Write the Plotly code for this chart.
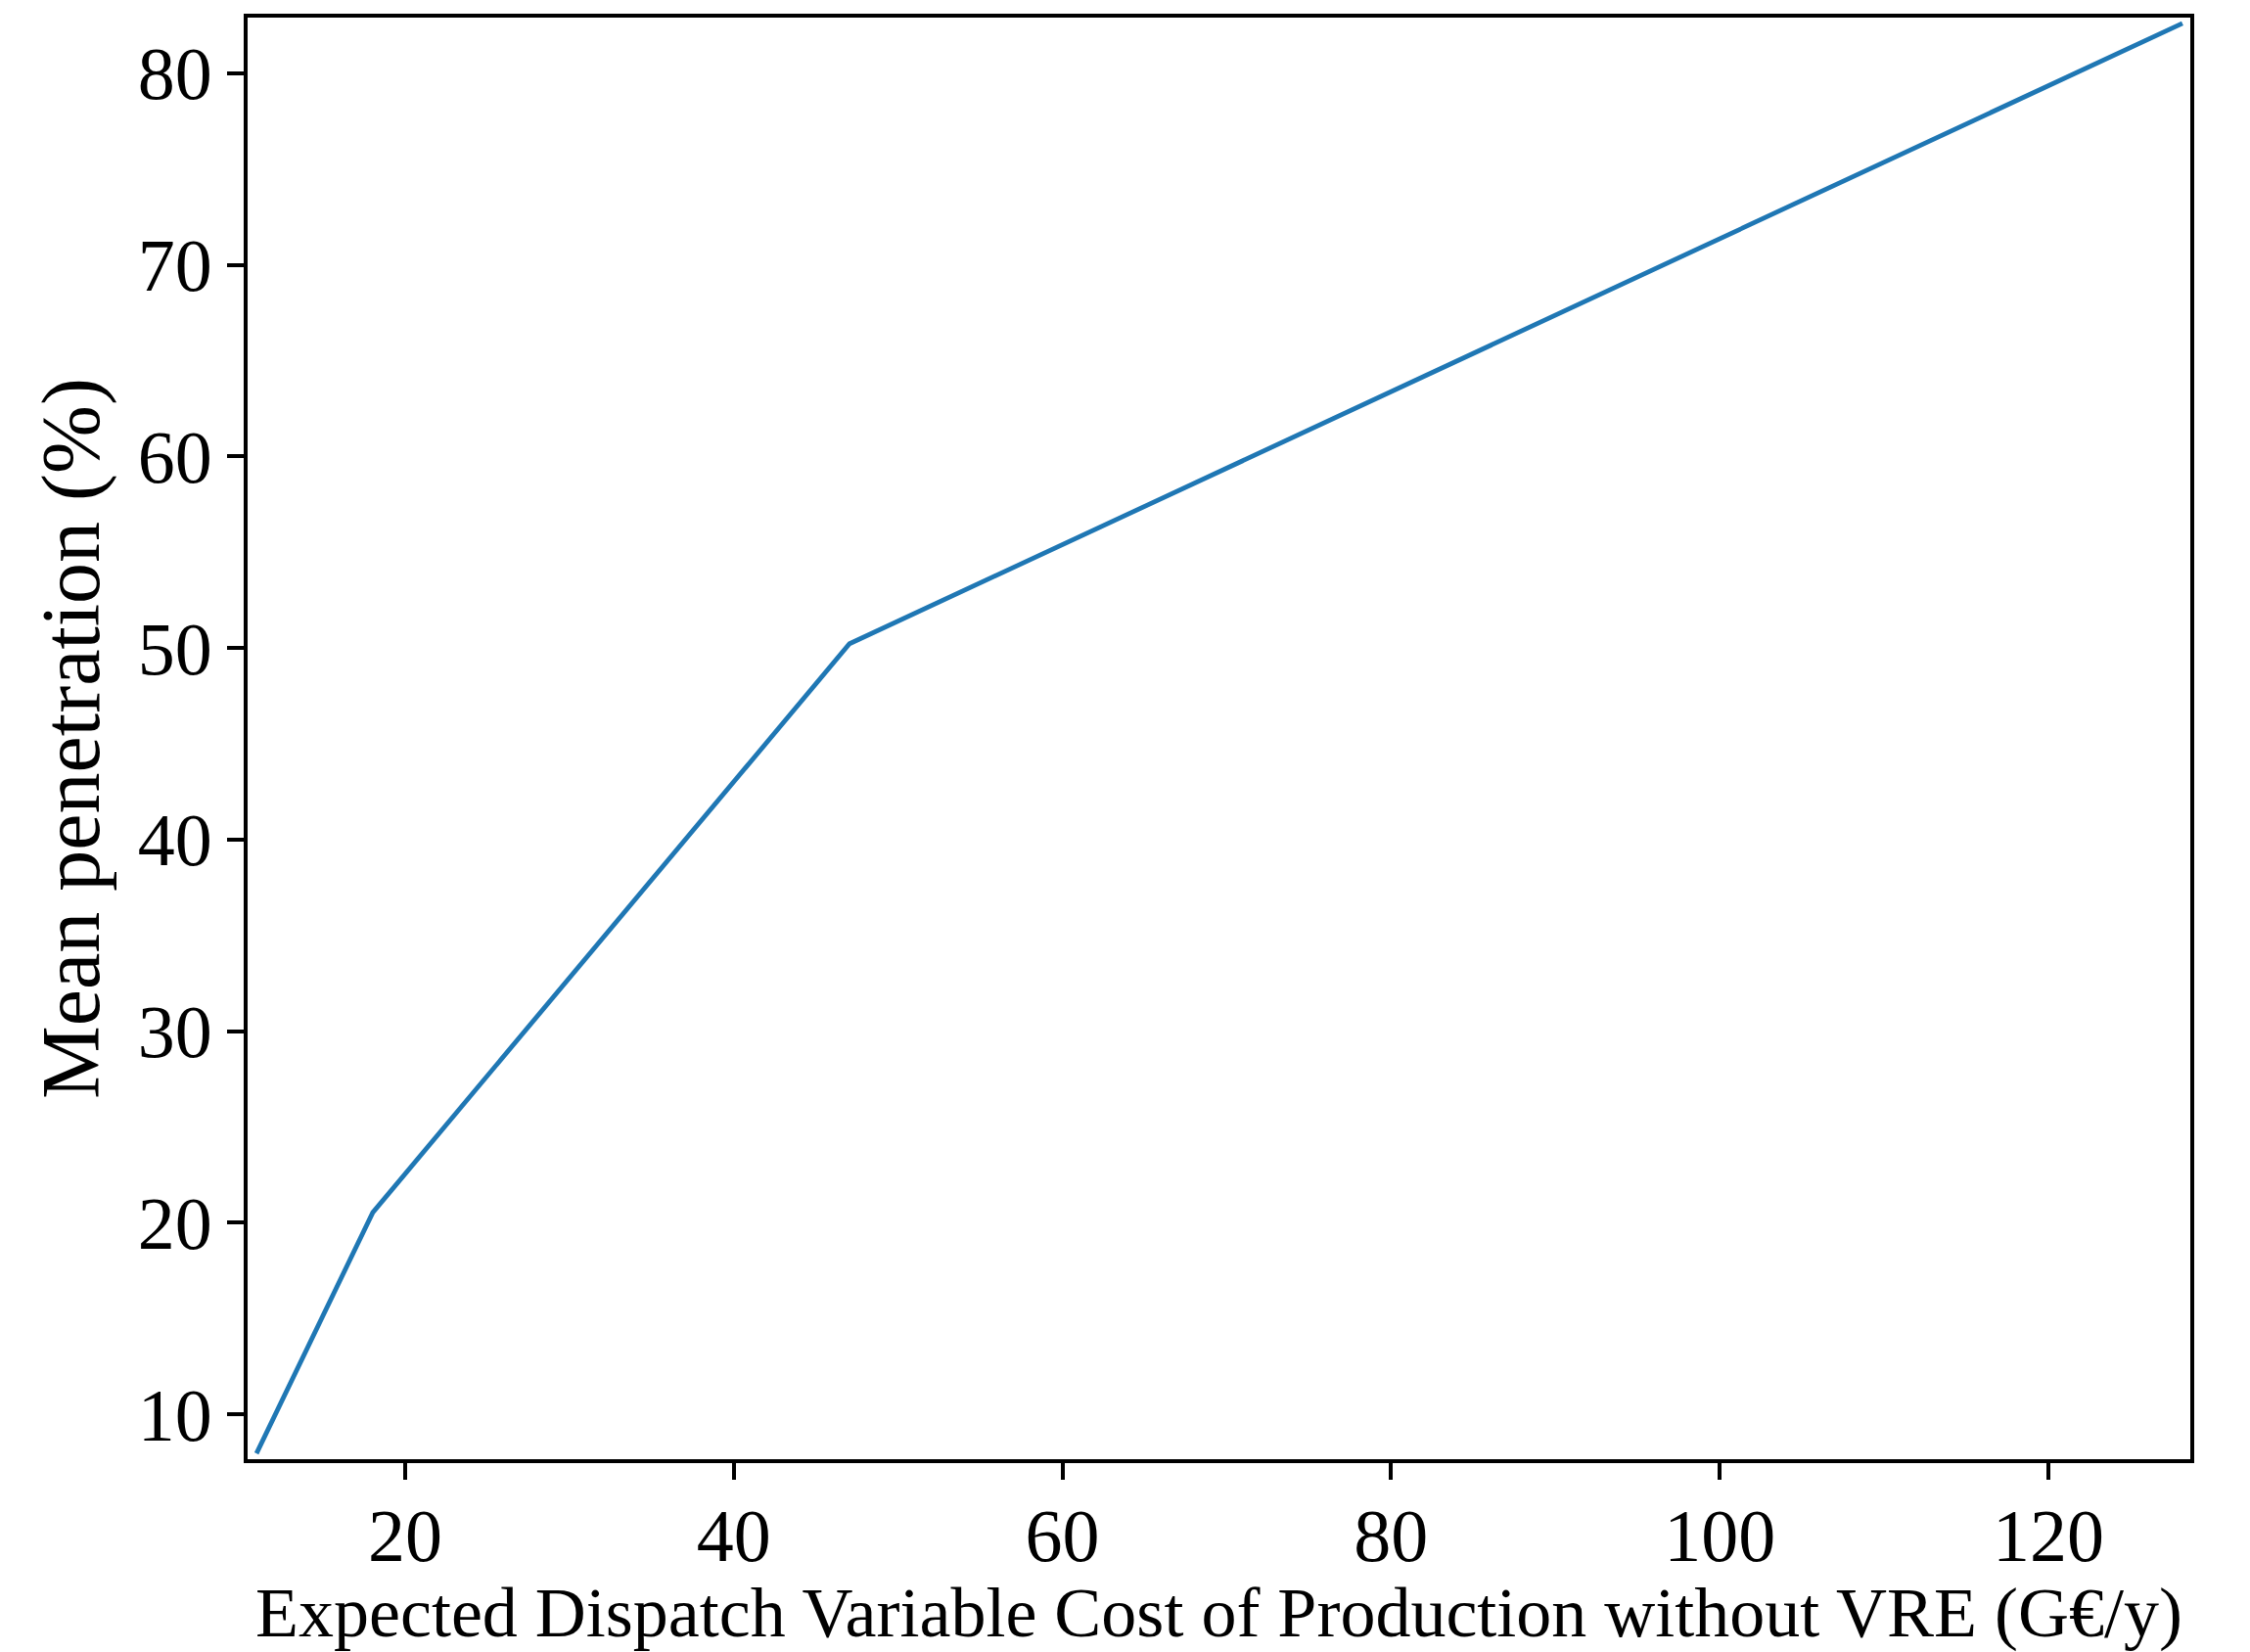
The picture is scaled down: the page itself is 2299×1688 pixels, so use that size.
import plotly.graph_objects as go

# Data
cost_gey = [10.95, 18.03, 47.04, 128.16]
mean_penetration = [7.96, 20.54, 50.22, 82.6]

x_ticks = [20, 40, 60, 80, 100, 120]
y_ticks = [10, 20, 30, 40, 50, 60, 70, 80]

FONT = "Liberation Serif"

fig = go.Figure()
fig.add_trace(go.Scatter(
    x=cost_gey, y=mean_penetration, mode="lines",
    line=dict(color="#1f77b4", width=4.8),
    showlegend=False,
))

axis_common = dict(
    showgrid=False, zeroline=False,
    showline=True, linecolor="black", linewidth=4, mirror=True,
    ticks="outside", ticklen=17, tickwidth=4, tickcolor="black",
    tickfont=dict(family=FONT, size=76, color="black"),
)

fig.update_xaxes(
    range=[10.41, 128.64], tickvals=x_ticks, ticklabelstandoff=-8,
    title=dict(text="Expected Dispatch Variable Cost of Production without VRE (G€/y)",
               font=dict(family=FONT, size=72, color="black"), standoff=14),
    **axis_common,
)
fig.update_yaxes(
    range=[7.66, 82.90], tickvals=y_ticks,
    title=dict(text="Mean penetration (%)",
               font=dict(family=FONT, size=84, color="black"), standoff=12),
    **axis_common,
)

fig.update_layout(
    width=2299, height=1688,
    margin=dict(l=253, r=61, t=18, b=192),
    paper_bgcolor="white", plot_bgcolor="white",
    font=dict(family=FONT, color="black"),
)

fig.write_html("out.html")
